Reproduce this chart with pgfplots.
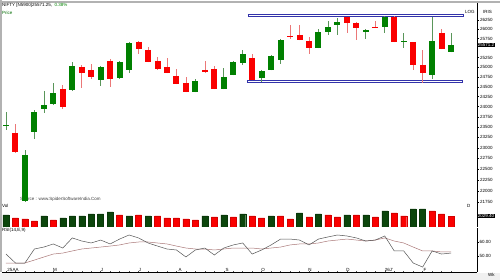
\documentclass[border=0pt]{standalone}
\usepackage{fontspec}
\setmainfont{Liberation Sans}
\usepackage{pgfplots}
\pgfplotsset{compat=1.18}
\definecolor{cgreen}{RGB}{0,128,0}
\definecolor{cred}{RGB}{250,0,0}
\definecolor{vgreen}{RGB}{12,70,12}
\definecolor{wickg}{RGB}{90,150,90}
\definecolor{wickr}{RGB}{235,120,120}
\definecolor{boxblue}{RGB}{50,50,170}
\definecolor{rsidark}{RGB}{85,85,85}
\definecolor{rsisig}{RGB}{170,120,120}
\newcommand{\sm}{\fontsize{4.5}{5}\selectfont}
\pgfplotsset{
  panel/.style={scale only axis, width=475pt, xmin=0.578, xmax=50.74,
    anchor=north west, clip mode=individual,
    axis line style={black, line width=0.4pt},
    tick style={black, line width=0.3pt},
    y tick label style={font=\sm, inner sep=1pt},
    /pgf/number format/assume math mode=true},
}
\begin{document}
\begin{tikzpicture}
\path[use as bounding box] (0pt,0pt) rectangle (500pt,-280pt);
\fill[white] (0pt,0pt) rectangle (500pt,-273pt);
\fill[gray!12] (0pt,-273pt) rectangle (500pt,-280pt);
\draw[gray!60, line width=1.5pt] (1pt,0pt) -- (1pt,-272pt);
\draw[gray!60, line width=1.2pt] (0pt,-2pt) -- (500pt,-2pt);
% texts
\node[anchor=west,inner sep=0,font=\sm] at (2pt,-5pt) {NIFTY [N5900]25571.25,\ \ \textcolor{cgreen}{0.38\%}};
\node[anchor=west,inner sep=0,font=\sm,text=cgreen!85!black] at (2pt,-12.5pt) {Price};
\node[anchor=west,inner sep=0,font=\sm] at (465pt,-12pt) {LOG};
\node[anchor=west,inner sep=0,font=\sm] at (483pt,-12pt) {IRIS};
\node[anchor=west,inner sep=0,font=\sm,text=black!75] at (20pt,-199pt) {Source : www.SpiderSoftwareIndia.Com};
\node[anchor=west,inner sep=0,font=\sm] at (2pt,-205.5pt) {Vol};
\node[anchor=west,inner sep=0,font=\sm] at (2pt,-230.5pt) {RSI(14,E,9)};
\node[anchor=west,inner sep=0,font=\sm] at (467pt,-206pt) {D};
\node[anchor=west,inner sep=0,font=\sm] at (488pt,-275pt) {Wk};
\foreach \xx/\tt in {13/25AA,55/M,102/J,140/J,180/A,227/S,263/O,310/N,348/D,389/26J',425/F}
  \node[inner sep=0,font=\sm] at (\xx pt,-269.5pt) {\tt};

% ---------- price panel ----------
\begin{axis}[panel, at={(2pt,-3pt)}, height=200pt,
  ymode=log, ymin=21728, ymax=26715,
  axis x line=none, axis y line*=right,
  ytick={21750,22000,22250,22500,22750,23000,23250,23500,23750,24000,24250,24500,24750,25000,25250,25750,26000,26250},
  yticklabels={21750,22000,22250,22500,22750,23000,23250,23500,23750,24000,24250,24500,24750,25000,25250,25750,26000,26250},
  minor y tick style={draw=none},
  ytick align=outside, major tick length=2pt,
  unbounded coords=jump]
% support / resistance boxes
\addplot[boxblue, line width=0.8pt, line join=miter] coordinates {(26.55,26405) (49.26,26405) (49.26,26340) (26.55,26340) (26.55,26405)};
\addplot[boxblue, line width=0.8pt, line join=miter] coordinates {(26.45,24670) (49.15,24670) (49.15,24595) (26.45,24595) (26.45,24670)};
% green wicks
\addplot[wickg, line width=0.7pt] coordinates {
(1,23430)(1,23870)(1,nan) (3,21750)(3,22951)(3,nan) (4,23213)(4,23919)(4,nan)
(5,23845)(5,24393)(5,nan) (6,24043)(6,24596)(6,nan) (8,24400)(8,25135)(8,nan)
(11,24520)(11,25030)(11,nan) (13,24700)(13,25160)(13,nan) (14,24851)(14,25650)(14,nan)
(21,24355)(21,24698)(21,nan) (24,24430)(24,24980)(24,nan) (25,24790)(25,25150)(25,nan)
(26,25058)(26,25449)(26,nan) (28,24621)(28,24915)(28,nan) (29,24915)(29,25305)(29,nan)
(30,25083)(30,25725)(30,nan) (34,25490)(34,26007)(34,nan) (35,25846)(35,26223)(35,nan)
(36,25846)(36,26304)(36,nan) (39,25740)(39,26007)(39,nan) (41,25900)(41,26345)(41,nan)
(43,25501)(43,25900)(43,nan) (46,24698)(46,26331)(46,nan) (48,25385)(48,25900)(48,nan)};
% red wicks
\addplot[wickr, line width=0.7pt] coordinates {
(2,22880)(2,23576)(2,nan) (7,23944)(7,24545)(7,nan) (9,24469)(9,25058)(9,nan)
(10,24698)(10,25083)(10,nan) (12,24495)(12,25214)(12,nan) (15,25344)(15,25680)(15,nan)
(16,25120)(16,25528)(16,nan) (17,24929)(17,25266)(17,nan) (18,24840)(18,25240)(18,nan)
(19,24560)(19,24954)(19,nan) (20,24355)(20,24749)(20,nan) (22,24851)(22,25161)(22,nan)
(23,24430)(23,25032)(23,nan) (27,24660)(27,25344)(27,nan) (31,25740)(31,26115)(31,nan)
(32,25700)(32,26115)(32,nan) (33,25344)(33,25793)(33,nan) (37,25900)(37,26340)(37,nan)
(38,25713)(38,26180)(38,nan) (40,26025)(40,26223)(40,nan) (42,25645)(42,26345)(42,nan)
(44,24929)(44,25670)(44,nan) (45,24596)(45,25449)(45,nan) (47,25460)(47,26007)(47,nan)};
% green bodies
\addplot[cgreen, line width=6pt] coordinates {
(1,23520)(1,23548)(1,nan) (3,21772)(3,22833)(3,nan) (4,23382)(4,23870)(4,nan)
(5,23944)(5,24043)(5,nan) (6,24068)(6,24343)(6,nan) (8,24419)(8,25032)(8,nan)
(11,24672)(11,25006)(11,nan) (13,24723)(13,25135)(13,nan) (14,24929)(14,25634)(14,nan)
(21,24368)(21,24647)(21,nan) (24,24444)(24,24749)(24,nan) (25,24800)(25,25135)(25,nan)
(26,25109)(26,25344)(26,nan) (28,24723)(28,24903)(28,nan) (29,24929)(29,25292)(29,nan)
(30,25187)(30,25713)(30,nan) (34,25501)(34,25927)(34,nan) (35,25927)(35,26061)(35,nan)
(36,26115)(36,26196)(36,nan) (39,25927)(39,25980)(39,nan) (41,26061)(41,26331)(41,nan)
(43,25660)(43,25687)(43,nan) (46,24800)(46,25687)(46,nan) (48,25396)(48,25571)(48,nan)};
% red bodies
\addplot[cred, line width=6pt] coordinates {
(2,23358)(2,22904)(2,nan) (7,24444)(7,23994)(7,nan) (9,25006)(9,24851)(9,nan)
(10,24929)(10,24749)(10,nan) (12,25161)(12,24698)(12,nan) (15,25660)(15,25475)(15,nan)
(16,25449)(16,25135)(16,nan) (17,25161)(17,24954)(17,nan) (18,25006)(18,24851)(18,nan)
(19,24774)(19,24571)(19,nan) (20,24596)(20,24368)(20,nan) (22,24929)(22,24877)(22,nan)
(23,24954)(23,24444)(23,nan) (27,25240)(27,24672)(27,nan) (31,25820)(31,25793)(31,nan)
(32,25846)(32,25713)(32,nan) (33,25687)(33,25501)(33,nan) (37,26331)(37,26169)(37,nan)
(38,26169)(38,26034)(38,nan) (40,26061)(40,26034)(40,nan) (42,26331)(42,25660)(42,nan)
(44,25660)(44,25058)(44,nan) (45,25058)(45,24851)(45,nan) (47,25900)(47,25475)(47,nan)};
\node[anchor=west, fill=black, text=white, inner sep=0.6pt, font=\sm] at (axis cs:50.74,25571) {25571.2};
\end{axis}

% ---------- volume panel ----------
\begin{axis}[panel, at={(2pt,-203pt)}, height=24pt,
  ymin=0, ymax=4428, axis x line=none, axis y line*=right, ytick=\empty]
\addplot[ybar, bar width=6pt, bar shift=0pt, fill=vgreen, draw=vgreen!80!black] coordinates {
(1,2214)(5,2030)(7,1661)(8,2030)(9,2030)(10,2399)(11,2399)(12,2768)(14,2030)(16,2030)
(22,2030)(24,2214)(26,2399)(29,2030)(32,2583)(34,2399)(37,2214)(39,2214)(41,2952)(44,3321)(45,3321)};
\addplot[ybar, bar width=6pt, bar shift=0pt, fill=cred, draw=cred!85!black] coordinates {
(2,1661)(3,1476)(4,1107)(6,1292)(13,2214)(15,2214)(17,2030)(18,1661)(19,1661)(20,1476)
(21,1292)(23,1845)(25,1845)(27,2030)(28,1661)(30,2030)(31,1476)(33,1845)(35,2214)(36,1845)
(38,2214)(40,1845)(42,2583)(43,2030)(46,2952)(47,2399)(48,2029)};
\node[anchor=west, fill=black, text=white, inner sep=0.6pt, font=\sm] at (axis cs:50.74,2029.4) {2029.40};
\end{axis}

% ---------- RSI panel ----------
\begin{axis}[panel, at={(2pt,-228pt)}, height=44pt,
  ymin=38.57, ymax=70, axis x line*=bottom, axis y line*=right,
  ytick={50,60}, yticklabels={50.00,60.00},
  xtick={1,...,48}, xticklabels={},
  xtick align=inside, ytick align=outside, major tick length=1.5pt,
  x tick style={black!70, line width=0.5pt}]
\addplot[rsisig, line width=0.5pt] coordinates {
(1,45.0)(2,45.0)(3,45.0)(4,47.1)(5,49.3)(6,51.4)(7,52.1)(8,53.6)(9,55.0)(10,55.7)
(11,56.4)(12,57.1)(13,57.9)(14,59.3)(15,60.0)(16,60.0)(17,59.3)(18,58.6)(19,57.1)(20,55.7)
(21,55.0)(22,55.0)(23,54.3)(24,55.0)(25,55.7)(26,55.7)(27,55.7)(28,55.0)(29,55.7)(30,56.4)
(31,57.9)(32,58.6)(33,58.6)(34,59.3)(35,60.7)(36,61.4)(37,62.1)(38,61.4)(39,60.7)(40,61.4)
(41,62.9)(42,60.7)(43,59.3)(44,56.4)(45,53.6)(46,53.6)(47,52.9)(48,52.9)};
\addplot[rsidark, line width=0.5pt] coordinates {
(1,51.4)(2,45.0)(3,45.0)(4,55.0)(5,56.4)(6,58.6)(7,55.7)(8,62.9)(9,60.7)(10,59.3)
(11,61.4)(12,58.6)(13,62.1)(14,65.0)(15,62.9)(16,59.3)(17,57.1)(18,55.0)(19,54.3)(20,49.3)
(21,54.3)(22,55.7)(23,50.7)(24,55.7)(25,57.9)(26,59.3)(27,51.4)(28,54.3)(29,57.9)(30,62.1)
(31,62.1)(32,61.4)(33,57.9)(34,62.1)(35,63.6)(36,65.0)(37,64.3)(38,62.9)(39,60.7)(40,61.4)
(41,64.3)(42,53.6)(43,53.6)(44,45.0)(45,42.1)(46,53.6)(47,51.4)(48,52.1)};
\end{axis}
\end{tikzpicture}
\end{document}
